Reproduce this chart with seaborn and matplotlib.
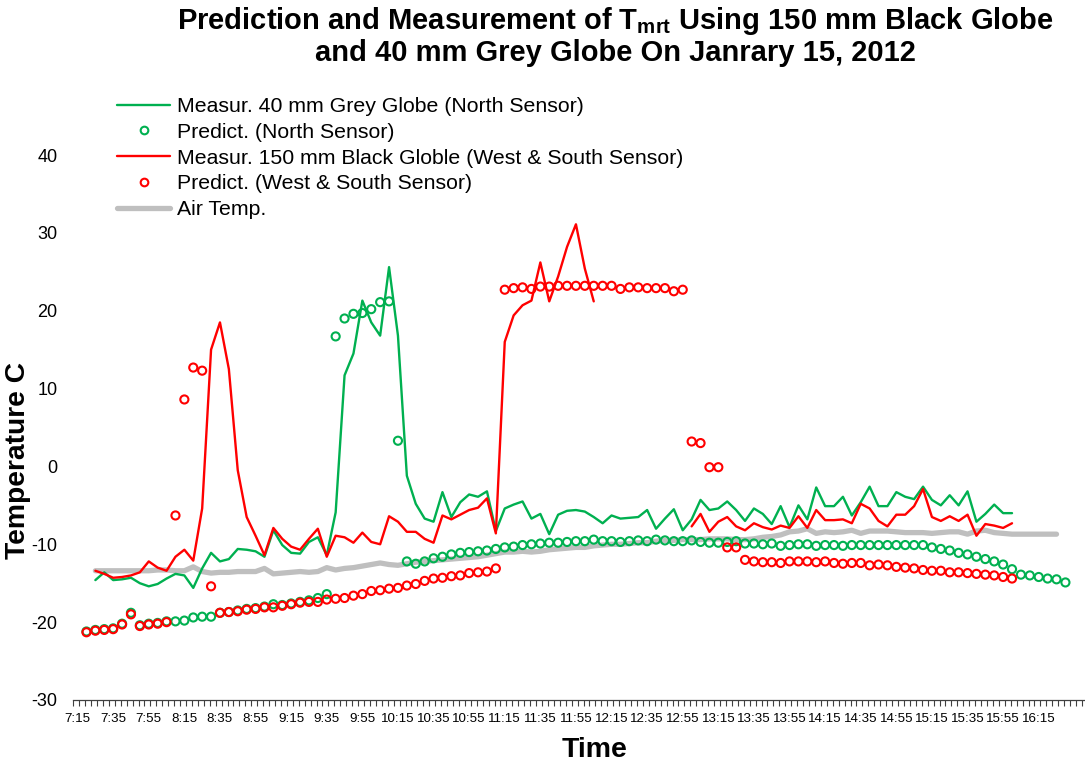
import numpy as np
import pandas as pd
import matplotlib
matplotlib.use("Agg")
import matplotlib.pyplot as plt
import seaborn as sns
from matplotlib.lines import Line2D

# ---------------- data (sampled every 5 min, 7:20 ... 16:30) ----------------
times = pd.date_range("2012-01-15 07:20", "2012-01-15 16:30", freq="5min")
tick_labels = ["7:15", "7:35", "7:55", "8:15", "8:35", "8:55", "9:15", "9:35", "9:55",
               "10:15", "10:35", "10:55", "11:15", "11:35", "11:55", "12:15", "12:35",
               "12:55", "13:15", "13:35", "13:55", "14:15", "14:35", "14:55", "15:15",
               "15:35", "15:55", "16:15"]

green_meas = [None,
    -14.6, -13.6, -14.6, -14.5, -14.3, -15.0, -15.4, -15.1, -14.4, -13.8,
    -14.0, -15.6, -13.1, -11.1, -12.2, -11.9, -10.6, -10.7, -10.9, -11.6,
    -8.2, -10.1, -11.1, -11.2, -9.7, -9.1, -11.4, -5.9, 11.7, 14.5,
    21.3, 18.5, 16.8, 25.6, 16.8, -1.2, -4.8, -6.7, -7.1, -3.3,
    -6.5, -4.6, -3.6, -3.9, -3.2, -8.3, -5.4, -4.9, -4.5, -6.7,
    -6.1, -8.7, -6.2, -5.7, -5.6, -5.8, -6.5, -7.3, -6.3, -6.7,
    -6.6, -6.5, -5.6, -8.0, -6.7, -5.5, -8.2, -6.8, -4.3, -5.6,
    -5.4, -4.5, -5.6, -7.0, -5.4, -6.1, -7.4, -5.1, -7.8, -5.0,
    -6.8, -2.7, -5.1, -5.1, -3.9, -6.3, -4.6, -2.6, -5.1, -5.1,
    -3.3, -3.9, -4.2, -2.6, -4.3, -5.0, -3.7, -5.0, -3.2, -7.1,
    -6.1, -4.9, -6.0, -6.0,
    None, None, None, None, None, None]

green_pred = [
    -21.2, -21.0, -20.9, -20.8, -20.2, -18.8, -20.4, -20.2, -20.1, -19.9,
    -19.9, -19.8, -19.4, -19.3, -19.3, -18.8, -18.7, -18.5, -18.3, -18.2,
    -18.0, -17.7, -17.8, -17.6, -17.4, -17.2, -16.9, -16.4, 16.7, 19.0,
    19.6, 19.7, 20.2, 21.1, 21.2, 3.3, -12.2, -12.5, -12.2, -11.8,
    -11.6, -11.3, -11.1, -11.0, -10.9, -10.8, -10.6, -10.4, -10.3, -10.1,
    -10.0, -9.9, -9.8, -9.8, -9.7, -9.6, -9.6, -9.4, -9.6, -9.6,
    -9.7, -9.6, -9.5, -9.6, -9.4, -9.5, -9.6, -9.6, -9.5, -9.7,
    -9.8, -9.8, -9.7, -9.6, -9.9, -9.9, -10.0, -9.9, -10.2, -10.1,
    -10.0, -10.0, -10.2, -10.1, -10.1, -10.2, -10.1, -10.1, -10.1, -10.1,
    -10.1, -10.1, -10.1, -10.1, -10.1, -10.4, -10.6, -10.8, -11.1, -11.3,
    -11.6, -11.9, -12.2, -12.6, -13.2, -13.9, -14.0, -14.2, -14.4, -14.5,
    -14.9]

red_meas = [None,
    -13.4, -13.8, -14.3, -14.2, -14.0, -13.6, -12.2, -13.0, -13.4, -11.6,
    -10.7, -12.1, -5.4, 15.0, 18.5, 12.5, -0.5, -6.5, -8.9, -11.4,
    -7.9, -9.3, -10.3, -10.7, -9.3, -8.0, -11.6, -8.9, -9.1, -9.8,
    -8.5, -9.7, -10.0, -6.4, -7.1, -8.4, -8.4, -9.3, -9.8, -6.3,
    -6.8, -6.2, -5.6, -5.3, -4.1, -8.6, 16.0, 19.4, 20.7, 21.3,
    26.2, 21.2, 24.4, 28.2, 31.1, 25.4, 21.2,
    None, None, None, None, None, None, None, None, None, None,
    -7.7, -6.1, -8.4, -7.1, -6.5, -7.7, -8.2, -7.3, -7.8, -8.1,
    -7.6, -7.9, -6.4, -7.9, -5.6, -6.9, -6.9, -6.8, -7.3, -4.8,
    -5.4, -7.0, -7.7, -6.2, -6.2, -5.1, -2.9, -6.5, -7.0, -6.4,
    -7.0, -6.2, -8.9, -7.4, -7.6, -7.9, -7.3,
    None, None, None, None, None, None]

red_pred = [
    -21.3, -21.1, -21.0, -20.9, -20.3, -19.0, -20.5, -20.3, -20.2, -20.0,
    -6.3, 8.6, 12.7, 12.3, -15.4, -18.8, -18.7, -18.6, -18.4, -18.3,
    -18.1, -18.1, -17.9, -17.7, -17.5, -17.4, -17.4, -17.1, -17.0, -16.9,
    -16.6, -16.4, -16.0, -15.9, -15.7, -15.6, -15.3, -15.1, -14.7, -14.4,
    -14.3, -14.1, -14.0, -13.7, -13.6, -13.5, -13.1, 22.7, 22.9, 23.0,
    22.8, 23.1, 23.1, 23.2, 23.2, 23.2, 23.2, 23.2, 23.2, 23.2,
    22.8, 23.0, 23.0, 22.9, 22.9, 22.9, 22.5, 22.7, 3.2, 3.0,
    -0.1, -0.1, -10.4, -10.4, -12.0, -12.2, -12.3, -12.3, -12.4, -12.2,
    -12.2, -12.2, -12.3, -12.2, -12.4, -12.5, -12.4, -12.4, -12.7, -12.6,
    -12.7, -12.9, -13.0, -13.1, -13.3, -13.4, -13.4, -13.6, -13.6, -13.7,
    -13.8, -13.9, -14.0, -14.2, -14.4,
    None, None, None, None, None, None]

air_temp = [None,
    -13.4, -13.4, -13.4, -13.4, -13.4, -13.4, -13.4, -13.3, -13.3, -13.4,
    -13.4, -12.9, -13.5, -13.7, -13.6, -13.6, -13.5, -13.5, -13.5, -13.1,
    -13.8, -13.7, -13.6, -13.5, -13.6, -13.5, -13.0, -13.3, -13.1, -13.0,
    -12.8, -12.6, -12.4, -12.6, -12.7, -12.5, -12.3, -12.2, -12.1, -12.0,
    -11.9, -11.8, -11.7, -11.6, -11.4, -11.2, -11.0, -11.0, -10.9, -11.0,
    -10.9, -10.7, -10.6, -10.5, -10.4, -10.4, -10.2, -10.1, -10.0, -10.0,
    -9.9, -9.8, -9.8, -9.6, -9.5, -9.5, -9.4, -9.4, -9.4, -9.3,
    -9.3, -9.3, -9.4, -9.4, -9.3, -9.1, -9.0, -8.8, -8.4, -8.3,
    -8.0, -8.6, -8.4, -8.5, -8.4, -8.2, -8.6, -8.3, -8.3, -8.3,
    -8.4, -8.5, -8.5, -8.5, -8.6, -8.5, -8.4, -8.4, -8.7, -8.3,
    -8.2, -8.5, -8.6, -8.7, -8.7, -8.7, -8.7, -8.7, -8.7,
    None]

labels = ["Measur. 40 mm Grey Globe (North Sensor)",
          "Predict. (North Sensor)",
          "Measur. 150 mm Black Globle (West & South Sensor)",
          "Predict. (West & South Sensor)",
          "Air Temp."]

GREEN = "#00B050"
RED = "#FF0000"
GREY = "#BFBFBF"

# ---------------- frame ----------------
t0 = pd.Timestamp("2012-01-15 07:15")
minutes = (times - t0).total_seconds() / 60.0
df = pd.DataFrame({"t": minutes,
                   "green_meas": pd.to_numeric(pd.Series(green_meas), errors="coerce"),
                   "green_pred": pd.to_numeric(pd.Series(green_pred), errors="coerce"),
                   "red_meas": pd.to_numeric(pd.Series(red_meas), errors="coerce"),
                   "red_pred": pd.to_numeric(pd.Series(red_pred), errors="coerce"),
                   "air": pd.to_numeric(pd.Series(air_temp), errors="coerce")})


def segments(col):
    d = df[["t", col]].copy()
    d["seg"] = d[col].isna().cumsum()
    return d.dropna()


sns.set_theme(style="white")
plt.rcParams["font.family"] = ["Liberation Sans", "DejaVu Sans"]
plt.rcParams["mathtext.fontset"] = "custom"
plt.rcParams["mathtext.rm"] = "Liberation Sans"
plt.rcParams["mathtext.bf"] = "Liberation Sans:bold"
for key in ["text.color", "axes.labelcolor", "xtick.color", "ytick.color"]:
    plt.rcParams[key] = "black"

fig = plt.figure(figsize=(10.85, 7.65), dpi=100)
ax = fig.add_axes([73.3 / 1085, 1 - 700 / 765, 1 - 73.3 / 1085, (700 - 155) / 765])

sns.lineplot(data=segments("air"), x="t", y="air", units="seg", estimator=None,
             color=GREY, lw=3.8, ax=ax, zorder=1, legend=False)
sns.lineplot(data=segments("green_meas"), x="t", y="green_meas", units="seg", estimator=None,
             color=GREEN, lw=1.7, ax=ax, zorder=2, legend=False)
sns.scatterplot(data=df.dropna(subset=["green_pred"]), x="t", y="green_pred", marker="o",
                s=34, facecolor="none", edgecolor=GREEN, linewidth=1.5, ax=ax, zorder=3,
                legend=False)
sns.lineplot(data=segments("red_meas"), x="t", y="red_meas", units="seg", estimator=None,
             color=RED, lw=1.7, ax=ax, zorder=4, legend=False)
sns.scatterplot(data=df.dropna(subset=["red_pred"]), x="t", y="red_pred", marker="o",
                s=34, facecolor="none", edgecolor=RED, linewidth=1.5, ax=ax, zorder=5,
                legend=False)

# axes
ax.set_xlim(-2.4, 566)
ax.set_ylim(-30, 40)
ax.set_yticks(np.arange(-30, 41, 10))
ax.set_yticklabels([str(v) for v in range(-30, 41, 10)], fontsize=13)
ax.tick_params(axis="y", length=0, pad=11.5)
ax.set_xticks(np.arange(0, 541, 20))
ax.set_xticklabels(tick_labels, fontsize=9.6)
ax.set_xticks(np.arange(-2.4, 566, 20 / 6), minor=True)
ax.tick_params(axis="x", which="major", length=0, pad=9)
ax.tick_params(axis="x", which="minor", length=4, width=0.8, color="#404040", direction="out",
               bottom=True)
for s in ["left", "right", "top"]:
    ax.spines[s].set_visible(False)
ax.spines["bottom"].set_color("#404040")
ax.spines["bottom"].set_linewidth(0.9)
ax.set_xlabel("")
ax.set_ylabel("")
ax.grid(False)

fig.text(595 / 1085, 1 - 750 / 765, "Time", ha="center", va="center",
         fontsize=20.5, fontweight="bold")
fig.text(18 / 1085, 1 - 460 / 765, "Temperature C", ha="center", va="center",
         rotation=90, fontsize=20.3, fontweight="bold")
fig.text(615 / 1085, 1 - 21 / 765,
         r"Prediction and Measurement of T$_{\mathbf{mrt}}$ Using 150 mm Black Globe",
         ha="center", va="center", fontsize=21, fontweight="bold")
fig.text(615 / 1085, 1 - 53 / 765, "and 40 mm Grey Globe On Janrary 15, 2012",
         ha="center", va="center", fontsize=21, fontweight="bold")

handles = [Line2D([], [], color=GREEN, lw=1.7),
           Line2D([], [], color=GREEN, marker="o", ls="none", markerfacecolor="none",
                  markersize=5.5, markeredgewidth=1.5),
           Line2D([], [], color=RED, lw=1.7),
           Line2D([], [], color=RED, marker="o", ls="none", markerfacecolor="none",
                  markersize=5.5, markeredgewidth=1.5),
           Line2D([], [], color=GREY, lw=3.8)]
leg = fig.legend(handles, labels, loc="upper left",
                 bbox_to_anchor=(117 / 1085, 1 - 97 / 765), frameon=False,
                 fontsize=15.3, handlelength=2.5, handletextpad=0.33, labelspacing=0.32,
                 borderaxespad=0, borderpad=0)

fig.savefig("out.png", dpi=100)
